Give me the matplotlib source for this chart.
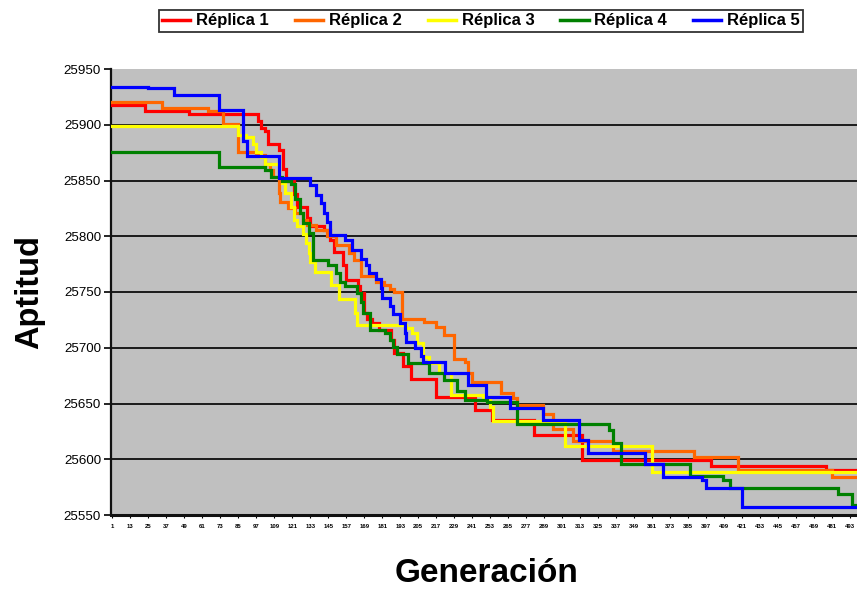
import matplotlib
matplotlib.use("Agg")
import matplotlib.pyplot as plt

plt.rcParams["font.family"] = ["Liberation Sans", "DejaVu Sans"]

# Best fitness per generation for each run, stored as change points:
# the value holds from that generation until the next change.
n_generations = 500

replica1_gen = [1, 23, 52, 98, 100, 103, 105, 112, 115, 117, 122, 124, 131, 133, 142,
                146, 149, 155, 157, 165, 166, 169, 171, 174, 179, 187, 189, 195, 200,
                217, 243, 254, 282, 314, 400, 477]
replica1_val = [25918, 25912, 25910, 25903, 25897, 25894, 25883, 25877, 25860, 25850,
                25838, 25826, 25816, 25809, 25806, 25797, 25786, 25774, 25761, 25755,
                25749, 25731, 25726, 25722, 25716, 25707, 25695, 25684, 25672, 25656,
                25644, 25635, 25622, 25599, 25594, 25590]

replica2_gen = [1, 34, 65, 75, 85, 97, 103, 106, 108, 112, 113, 118, 123, 128, 131, 137,
                144, 150, 159, 162, 167, 177, 182, 186, 189, 194, 209, 217, 222, 229,
                236, 238, 241, 260, 268, 271, 288, 295, 308, 335, 389, 418, 481]
replica2_val = [25920, 25915, 25912, 25901, 25876, 25873, 25865, 25859, 25853, 25839,
                25831, 25825, 25821, 25815, 25810, 25806, 25800, 25792, 25785, 25779,
                25764, 25759, 25756, 25753, 25750, 25726, 25723, 25719, 25711, 25690,
                25687, 25677, 25669, 25659, 25655, 25649, 25641, 25627, 25616, 25607,
                25602, 25590, 25584]

replica3_gen = [1, 85, 90, 95, 97, 100, 103, 112, 114, 116, 120, 122, 124, 128, 130, 132,
                133, 136, 147, 152, 163, 164, 197, 201, 204, 208, 212, 219, 227, 248,
                253, 255, 303, 361]
replica3_val = [25899, 25891, 25889, 25883, 25876, 25871, 25865, 25852, 25848, 25839,
                25826, 25815, 25809, 25802, 25794, 25785, 25777, 25768, 25756, 25744,
                25731, 25720, 25718, 25713, 25704, 25692, 25686, 25677, 25658, 25653,
                25647, 25634, 25612, 25589]

replica4_gen = [1, 72, 103, 107, 114, 120, 123, 126, 128, 132, 135, 145, 150, 153, 156,
                164, 167, 168, 173, 183, 186, 188, 191, 198, 212, 222, 231, 236, 251,
                271, 332, 335, 340, 386, 408, 413, 485, 494]
replica4_val = [25876, 25862, 25859, 25853, 25850, 25847, 25833, 25821, 25812, 25803,
                25779, 25774, 25767, 25759, 25755, 25749, 25741, 25731, 25716, 25713,
                25707, 25701, 25694, 25686, 25677, 25671, 25661, 25653, 25651, 25632,
                25626, 25615, 25596, 25585, 25581, 25574, 25569, 25559]

replica5_gen = [1, 25, 42, 72, 88, 91, 112, 133, 137, 140, 142, 144, 146, 156, 161, 167,
                170, 172, 177, 180, 181, 186, 188, 193, 196, 197, 203, 207, 208, 223,
                238, 250, 266, 288, 312, 318, 356, 368, 394, 397, 421]
replica5_val = [25934, 25933, 25927, 25913, 25885, 25872, 25852, 25846, 25837, 25830,
                25821, 25813, 25801, 25797, 25788, 25780, 25774, 25767, 25762, 25754,
                25745, 25737, 25730, 25722, 25713, 25705, 25700, 25693, 25687, 25677,
                25667, 25656, 25646, 25635, 25617, 25606, 25596, 25584, 25581, 25574,
                25557]

series_names = ["Réplica 1", "Réplica 2", "Réplica 3", "Réplica 4", "Réplica 5"]
series_gens = [replica1_gen, replica2_gen, replica3_gen, replica4_gen, replica5_gen]
series_vals = [replica1_val, replica2_val, replica3_val, replica4_val, replica5_val]
series_colors = ["#FF0000", "#FF6600", "#FFFF00", "#008000", "#0000FF"]

y_ticks = list(range(25550, 25951, 50))
x_tick_labels = list(range(1, 494, 12))

W, H = 857, 589
fig = plt.figure(figsize=(W / 100, H / 100), dpi=100)
fig.patch.set_facecolor("white")

left_px, right_px, top_px, bottom_px = 110.75, 857, 69, 515
ax = fig.add_axes([left_px / W, 1 - bottom_px / H,
                   (right_px - left_px) / W, (bottom_px - top_px) / H])
ax.set_facecolor("#C0C0C0")

for name, gens, vals, color in zip(series_names, series_gens, series_vals, series_colors):
    xs = gens + [n_generations]
    ys = vals + [vals[-1]]
    ax.step(xs, ys, where="post", color=color, lw=2.3, label=name,
            solid_joinstyle="miter", zorder=3)

ax.set_ylim(y_ticks[0], y_ticks[-1])
ax.set_xlim(0, (right_px - left_px) / 1.5)
ax.set_yticks(y_ticks)
ax.set_xticks(x_tick_labels)
ax.set_xticklabels([str(v) for v in x_tick_labels], fontsize=4.3, fontweight="bold")
ax.tick_params(axis="y", labelsize=9.6, length=5, width=1.2, pad=2, direction="out")
ax.tick_params(axis="x", length=2.5, width=0.8, pad=4, direction="out")

ax.yaxis.grid(True, color="#1a1a1a", lw=1.4, zorder=1)
ax.set_axisbelow(True)
ax.get_ygridlines()[-1].set_visible(False)
ax.get_ygridlines()[0].set_visible(False)

for side in ("top", "right"):
    ax.spines[side].set_visible(False)
ax.spines["left"].set_linewidth(1.6)
ax.spines["bottom"].set_linewidth(2.2)
ax.spines["left"].set_color("#111111")
ax.spines["bottom"].set_color("#111111")

fig.text(30 / W, 1 - 292 / H, "Aptitud", rotation=90, ha="center", va="center",
         fontsize=23.5, fontweight="bold")
fig.text(487 / W, 1 - 573 / H, "Generación", ha="center", va="center",
         fontsize=24, fontweight="bold")

leg = fig.legend(loc="center", bbox_to_anchor=(481 / W, 1 - 21 / H), ncol=5,
                 prop={"size": 12, "weight": "bold"}, frameon=True, fancybox=False,
                 handlelength=1.7, handletextpad=0.35, columnspacing=1.55,
                 borderpad=0.2, edgecolor="black", borderaxespad=0)
leg.get_frame().set_linewidth(1.3)
for line in leg.get_lines():
    line.set_linewidth(2.5)

fig.savefig("out.png", dpi=100, facecolor="white")
